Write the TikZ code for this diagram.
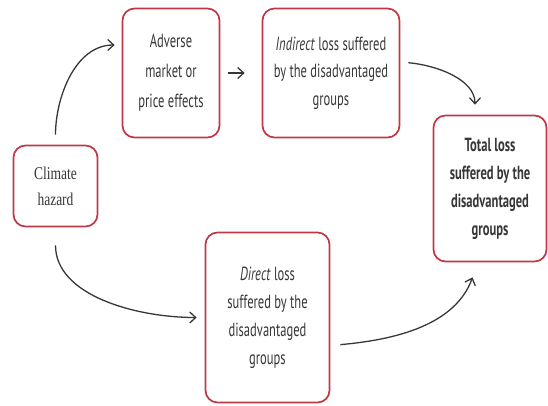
\documentclass[tikz,border=0pt]{standalone}
\usepackage{fontspec}
\setmainfont{PT Sans}[FakeStretch=0.66]
\newfontfamily\hazardfont{Liberation Serif}[FakeStretch=0.75]
\usetikzlibrary{arrows.meta, positioning}

\definecolor{boxred}{RGB}{190,56,70}
\definecolor{inkgray}{RGB}{55,55,55}

\tikzset{
  lossbox/.style={draw=boxred, line width=1.7pt, rounded corners=12pt, align=center,
    text=inkgray, font=\fontsize{19}{27.5}\selectfont, inner sep=2pt},
  flow/.style={-{Straight Barb[length=6pt,width=11pt]}, line width=1.3pt, draw=inkgray},
}

\begin{document}
\begin{tikzpicture}[x=1pt, y=-1pt]
  \useasboundingbox (0,0) rectangle (548,405);
  % boxes
  \node[lossbox, minimum width=84pt, minimum height=81pt,
        font=\hazardfont\fontsize{18}{26}\selectfont] (hazard) at (55.5,186) {Climate\\hazard};
  \node[lossbox, minimum width=97pt, minimum height=129pt,
        font=\fontsize{19}{30}\selectfont] (adverse) at (171,73)
        {Adverse\\market or\\price effects};
  \node[lossbox, minimum width=137pt, minimum height=129pt] (indirect) at (331,73)
        {\textit{Indirect} loss suffered\\by the disadvantaged\\groups};
  \node[lossbox, minimum width=113pt, minimum height=146pt,
        font=\bfseries\fontsize{19}{28}\selectfont] (total) at (490,188.5)
        {Total loss\\suffered by the\\disadvantaged\\groups};
  \node[lossbox, minimum width=124pt, minimum height=170pt,
        font=\fontsize{19}{28}\selectfont] (direct) at (267.5,317.5)
        {\textit{Direct} loss\\suffered by the\\disadvantaged\\groups};
  % arrows
  \draw[flow, shorten <=10pt, shorten >=7pt] (hazard.north) to[out=90, in=180] ([yshift=28pt]adverse.west);
  \draw[flow, shorten <=8pt, shorten >=17pt] (adverse.east) -- (indirect.west);
  \draw[flow, shorten <=8pt, shorten >=10pt] ([yshift=11pt]indirect.east) to[out=-5, in=90] ([xshift=-15pt]total.north);
  \draw[flow, shorten <=18pt, shorten >=8pt] (hazard.south) to[out=-90, in=180] (direct.west);
  \draw[flow, shorten <=10pt, shorten >=16pt] ([yshift=-28pt]direct.east) to[out=5, in=-110] ([xshift=-12pt]total.south);
\end{tikzpicture}
\end{document}
